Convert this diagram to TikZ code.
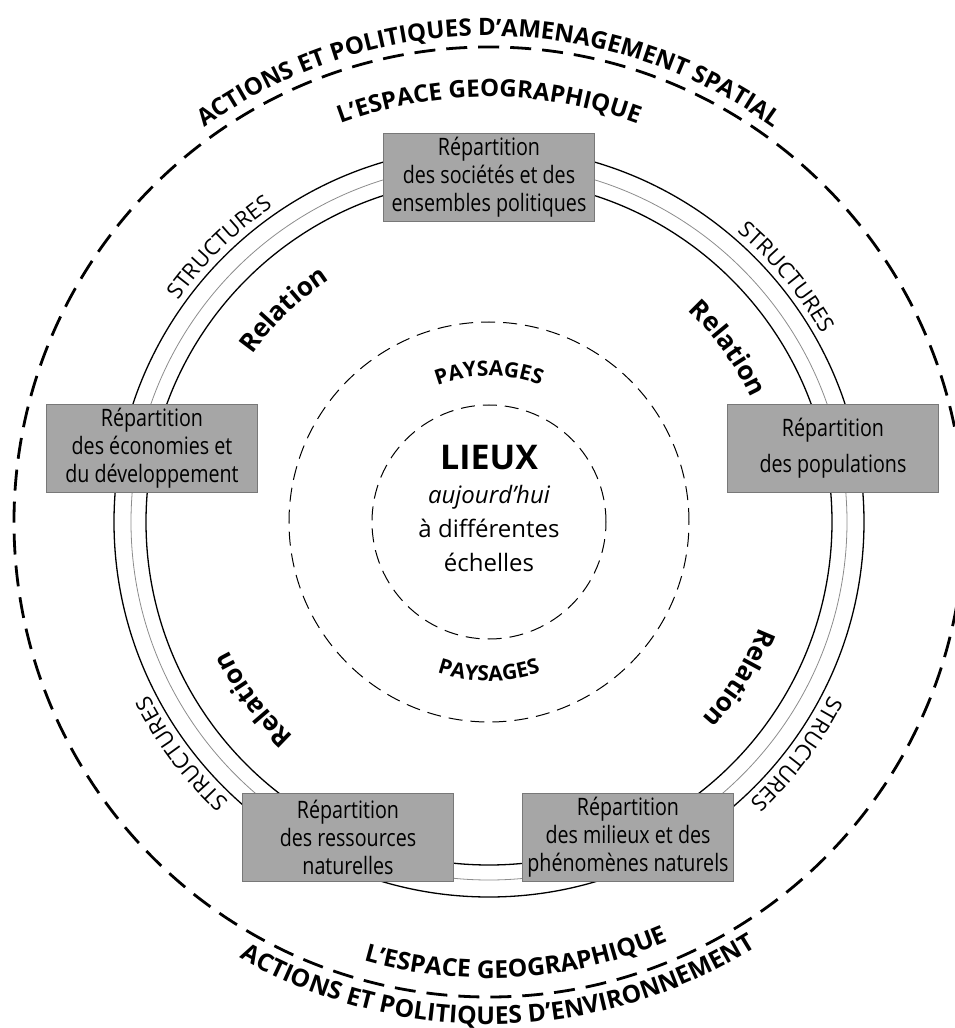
\documentclass[tikz,border=0pt]{standalone}
\usepackage{fontspec}
\setmainfont{Open Sans}
\newfontfamily\boxfont[FakeStretch=0.82]{Open Sans}
\usetikzlibrary{positioning, decorations.text}

\definecolor{boxgray}{RGB}{166,166,166}
\definecolor{boxline}{RGB}{120,120,120}
\definecolor{ringgray}{RGB}{140,140,140}

\newcommand{\titlefont}{\fontsize{24}{24}\selectfont\bfseries}
\newcommand{\bigtitlefont}{\fontsize{24.6}{25}\selectfont\bfseries}
\newcommand{\relfont}{\fontsize{26}{26}\selectfont\bfseries}
\newcommand{\strfont}{\fontsize{22}{22}\selectfont}
\newcommand{\payfont}{\fontsize{21}{21}\selectfont\bfseries}

\begin{document}
\begin{tikzpicture}[
    x=1pt, y=1pt,
    repbox/.style={rectangle, draw=boxline, fill=boxgray, line width=0.8pt,
        minimum width=211pt, minimum height=88pt, align=center, inner sep=2pt,
        font=\boxfont\fontsize{24}{28}\selectfont},
    ring/.style={line width=1.3pt},
    thinring/.style={line width=0.8pt, draw=ringgray},
    outerdash/.style={line width=2.8pt, dash pattern=on 21pt off 11pt},
    innerdash/.style={line width=1pt, dash pattern=on 14pt off 8pt},
    curved/.style={decorate, decoration={text along path, text align=center, text={#1}}}
]
\useasboundingbox (-489,-506) rectangle (466,522);
\clip (-489,-506) rectangle (466,522);

% --- Circles ---
\draw[outerdash] (0,0) circle[radius=475];
\draw[ring] (0,0) circle[radius=375];
\draw[thinring] (0,0) circle[radius=358];
\draw[ring] (0,0) circle[radius=343];
\draw[innerdash] (0,0) circle[radius=200];
\draw[innerdash] (0,0) circle[radius=117];

% --- Boxes ---
\node[repbox] (societes) at (0,345) {Répartition\\des sociétés et des\\ensembles politiques};
\node[repbox] (economies) at (-337,74) {Répartition\\des économies et\\du développement};
\node[repbox] (populations) at (344,74) {Répartition\\[8pt]des populations};
\node[repbox] (ressources) at (-141,-315) {Répartition\\des ressources\\naturelles};
\node[repbox] (milieux) at (139,-315) {Répartition\\des milieux et des\\phénomènes naturels};

% --- Centre ---
\node[font=\bfseries\fontsize{34}{34}\selectfont] (lieux) at (0,64) {LIEUX};
\node[font=\itshape\fontsize{24}{28}\selectfont] (today) at (0,25) {aujourd'hui};
\node[font=\fontsize{24}{28}\selectfont] (scales) at (0,-6) {à différentes};
\node[font=\fontsize{24}{28}\selectfont] (scales2) at (0,-40) {échelles};

% --- Curved titles ---
\path[curved={|\titlefont|ACTIONS ET POLITIQUES D'AMENAGEMENT SPATIAL}]
    (175:486) arc[start angle=175, end angle=5, radius=486];
\path[curved={|\bigtitlefont|ACTIONS ET POLITIQUES D'ENVIRONNEMENT}]
    (191.2:502) arc[start angle=191.2, end angle=351.2, radius=502];
\path[curved={|\titlefont|L'ESPACE GEOGRAPHIQUE}]
    (160:425) arc[start angle=160, end angle=20, radius=425];
\path[curved={|\bigtitlefont|L'ESPACE GEOGRAPHIQUE}]
    (203.6:456) arc[start angle=203.6, end angle=343.6, radius=456];
\path[curved={|\payfont|PAYSAGES}]
    (150:146) arc[start angle=150, end angle=30, radius=146];
\path[curved={|\payfont|PAYSAGES}]
    (210:159) arc[start angle=210, end angle=330, radius=159];

% --- Relation / structures ---
\foreach \ang in {134, 36, 217, -32} {
    \path[curved={|\relfont|Relation}]
        (\ang+30:290) arc[start angle=\ang+30, end angle=\ang-30, radius=290];
}
\foreach \ang in {134.5, 39.5, 217, -37} {
    \path[curved={|\strfont|STRUCTURES}]
        (\ang+25:382) arc[start angle=\ang+25, end angle=\ang-25, radius=382];
}

\end{tikzpicture}
\end{document}
